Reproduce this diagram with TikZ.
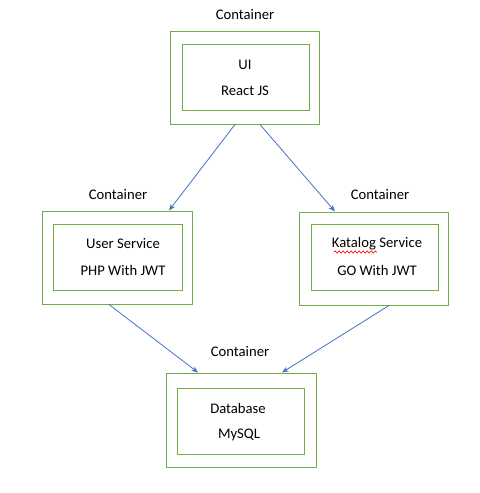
\documentclass[tikz,border=0pt]{standalone}
\usepackage{fontspec}
\setmainfont{Carlito}
\usetikzlibrary{arrows.meta,decorations.pathmorphing}
\definecolor{boxgreen}{HTML}{70AD47}
\definecolor{arrowblue}{HTML}{4472C4}
\tikzset{
  x=0.75pt, y=-0.75pt,
  outerbox/.style={draw=boxgreen, line width=0.75pt, inner sep=0pt},
  innerbox/.style={draw=boxgreen, line width=0.75pt, inner sep=0pt},
  lbl/.style={font=\fontsize{11pt}{13pt}\selectfont, inner sep=0pt, anchor=center},
  conn/.style={draw=arrowblue, line width=0.6pt, -{Stealth[length=5pt,width=4pt]}},
}
\begin{document}
\begin{tikzpicture}
\useasboundingbox (0,0) rectangle (479,493);
% top
\node[outerbox, minimum width=149*0.75pt, minimum height=93*0.75pt] (uiO) at (244.5,77.5) {};
\node[innerbox, minimum width=127*0.75pt, minimum height=66*0.75pt] (uiI) at (245.5,77) {};
\node[lbl] (uiC) at (245,15) {Container};
\node[lbl] (ui1) at (245,65) {UI};
\node[lbl] (ui2) at (245,91) {React JS};
% left
\node[outerbox, minimum width=150*0.75pt, minimum height=93*0.75pt] (usO) at (117,257.5) {};
\node[innerbox, minimum width=129*0.75pt, minimum height=66*0.75pt] (usI) at (117.5,257) {};
\node[lbl] (usC) at (118,195) {Container};
\node[lbl] (us1) at (123,244) {User Service};
\node[lbl] (us2) at (123,270) {PHP With JWT};
% right
\node[outerbox, minimum width=149*0.75pt, minimum height=93*0.75pt] (ksO) at (373.5,258.5) {};
\node[innerbox, minimum width=127*0.75pt, minimum height=66*0.75pt] (ksI) at (374.5,257) {};
\node[lbl] (ksC) at (380,195) {Container};
\node[lbl] (ks1) at (377,244) {Katalog Service};
\node[lbl] (ks2) at (377,270) {GO With JWT};
\coordinate (sqA) at (334,252);
\coordinate (sqB) at (377,252);
\draw[red, line width=0.5pt, decorate, decoration={snake, amplitude=0.8pt, segment length=3pt}] (sqA) -- (sqB);
% bottom
\node[outerbox, minimum width=150*0.75pt, minimum height=94*0.75pt] (dbO) at (241,420) {};
\node[innerbox, minimum width=127*0.75pt, minimum height=66*0.75pt] (dbI) at (240.5,421) {};
\node[lbl] (dbC) at (240,352) {Container};
\node[lbl] (db1) at (238,408) {Database};
\node[lbl] (db2) at (239,435) {MySQL};
% connectors
\draw[conn] (uiO.south -| 235,0) -- (usO.north -| 169,0);
\draw[conn] (uiO.south -| 260,0) -- (ksO.north -| 335,0);
\draw[conn] (usO.south -| 109,0) -- (dbO.north -| 198,0);
\draw[conn] (ksO.south -| 389,0) -- (dbO.north -| 282,0);
\end{tikzpicture}
\end{document}
